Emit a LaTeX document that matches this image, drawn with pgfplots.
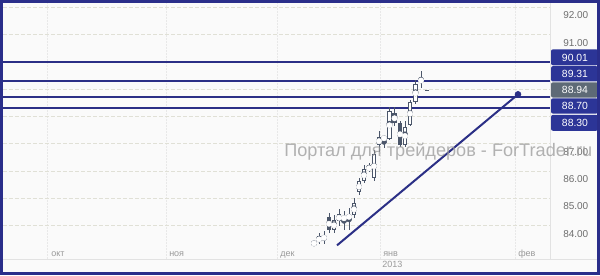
\documentclass[border=0pt]{standalone}
\usepackage{pgfplots}
\pgfplotsset{compat=1.18}
\usepackage{pgfplotstable}
\usepackage{fontspec}
\setmainfont{Liberation Sans}
\definecolor{bg}{HTML}{FAFAFA}
\definecolor{frame}{HTML}{2A2E8A}
\definecolor{navy}{HTML}{2B2F86}
\definecolor{boxnavy}{HTML}{2C3597}
\definecolor{boxgray}{HTML}{5E6A76}
\definecolor{candle}{HTML}{4B566A}
\definecolor{gridc}{HTML}{E0E0D6}
\definecolor{vgridc}{HTML}{E8E8E8}
\definecolor{ticktext}{HTML}{6E6E6E}
\definecolor{monthtext}{HTML}{9A9A9A}
\definecolor{sepc}{HTML}{E2E2E2}

% x = position along the time axis (days as drawn), o h l c = prices
\pgfplotstableread{
x o h l c
314 83.32 83.43 83.28 83.39
319 83.39 83.72 83.32 83.61
324 83.65 83.79 83.32 83.47
329 84.31 84.45 83.72 83.83
334 83.83 84.38 83.72 84.20
339 84.16 84.60 83.98 84.42
344 84.27 84.53 83.83 84.28
349 84.42 84.64 83.83 84.23
354 84.38 85.00 84.27 84.82
359 85.22 85.74 85.11 85.63
364 85.63 86.21 85.55 86.07
369 86.10 86.29 85.96 86.11
374 85.74 86.76 85.63 86.62
379 86.95 87.46 86.69 87.24
384 87.20 87.31 86.84 87.21
389.5 87.16 88.34 87.13 88.20
394.5 88.12 88.34 87.64 87.75
400 87.75 87.82 86.87 86.95
405 86.95 87.82 86.87 87.62
410 87.68 88.59 87.64 88.52
415.5 88.52 89.33 88.45 89.18
421 89.36 89.66 89.03 89.28
}\candles

\begin{document}
\begin{tikzpicture}
\begin{scope}[shift={(-2.25pt,194.25pt)}, x=0.75pt, y=-0.75pt]
  \fill[bg] (0,0) rectangle (600,275);
\end{scope}
\begin{axis}[
  at={(0,0)}, anchor=south west,
  scale only axis, width=410.25pt, height=192pt,
  xmin=3, xmax=550, ymin=82.769, ymax=92.1465,
  axis line style={draw=none},
  xtick={48,166,277,380,515},
  xticklabels={окт,ноя,дек,янв,фев},
  xticklabel style={anchor=base west, inner sep=0pt, xshift=2.25pt, yshift=2.25pt, font=\fontsize{6.75}{7}\selectfont, text=monthtext},
  ytick={84,85,86,87,88,89,90,91,92},
  yticklabels={84.00,85.00,86.00,87.00,,,,91.00,92.00},
  yticklabel pos=right,
  yticklabel style={anchor=west, inner sep=0pt, xshift=9.75pt, yshift=-6pt, font=\fontsize{7.5}{8}\selectfont, text=ticktext},
  major tick length=0pt,
  xmajorgrids, ymajorgrids,
  x grid style={vgridc, line width=0.75pt, dash pattern=on 1.5pt off 0.75pt},
  y grid style={gridc, line width=0.75pt, dash pattern=on 3pt off 1.5pt},
]
% price levels
\addplot[navy, line width=1.5pt] coordinates {(3,90.01) (550,90.01)};
\addplot[navy, line width=1.5pt] coordinates {(3,89.31) (550,89.31)};
\addplot[navy, line width=1.5pt] coordinates {(3,88.70) (550,88.70)};
\addplot[navy, line width=1.5pt] coordinates {(3,88.30) (550,88.30)};
% trend line
\addplot[navy, line width=1.5pt] coordinates {(337,83.28) (518,88.81)};
\addplot[navy, only marks, mark=*, mark size=2.25pt] coordinates {(518,88.81)};
% wicks
\addplot[candle, only marks, mark=none, error bars/.cd, y dir=both, y explicit, error mark=none,
  error bar style={candle, line width=0.75pt}]
  table[x=x, y expr={(\thisrow{h}+\thisrow{l})/2}, y error expr={(\thisrow{h}-\thisrow{l})/2}] {\candles};
% bodies
\addplot[candle, only marks, mark=none, error bars/.cd, y dir=both, y explicit, error mark=none,
  error bar style={candle, line width=3.2pt}]
  table[x=x, y expr={(\thisrow{o}+\thisrow{c})/2}, y error expr={max(abs(\thisrow{c}-\thisrow{o})/2,0.0183)}] {\candles};
% hollow interiors of rising candles
\addplot[white, only marks, mark=none, error bars/.cd, y dir=both, y explicit, error mark=none,
  error bar style={white, line width=1.7pt}]
  table[x=x, y expr={(\thisrow{o}+\thisrow{c})/2}, y error expr={(\thisrow{c}>\thisrow{o})*max((\thisrow{c}-\thisrow{o})/2-0.0366,0)}] {\candles};
% current price tick
\addplot[candle, line width=0.75pt] coordinates {(425,88.94) (429,88.94)};
\end{axis}
\begin{scope}[shift={(-2.25pt,194.25pt)}, x=0.75pt, y=-0.75pt]
  % separators
  \draw[sepc, line width=0.75pt] (3,259) -- (597,259);
  \draw[sepc, line width=0.75pt] (550,3) -- (550,259);
  % year
  \node[anchor=base west, inner sep=0pt, font=\fontsize{6.75}{7}\selectfont, text=monthtext] at (382,267.5) {2013};
  % watermark
  \node[anchor=base west, inner sep=0pt, font=\fontsize{13.6}{14}\selectfont, text=black!40, opacity=0.75] at (284,156.5) {Портал для трейдеров - ForTrader.ru};
  % price boxes
  \fill[boxnavy, rounded corners=1.5pt] (551,49) rectangle (598,65);
  \fill[boxnavy, rounded corners=1.5pt] (551,65.8) rectangle (598,81.2);
  \fill[boxgray, rounded corners=1.5pt] (551,82) rectangle (598,97.3);
  \fill[boxnavy, rounded corners=1.5pt] (551,98) rectangle (598,113.3);
  \fill[boxnavy, rounded corners=1.5pt] (551,114.6) rectangle (598,130.5);
  \begin{scope}[every node/.style={text=white, font=\fontsize{7.8}{8}\selectfont, inner sep=0pt}]
    \node at (575,57.2) {90.01};
    \node at (575,73.6) {89.31};
    \node at (575,89.8) {88.94};
    \node at (575,105.8) {88.70};
    \node at (575,122.6) {88.30};
  \end{scope}
  % frame
  \draw[frame, line width=2.25pt] (1.5,1.2) rectangle (598.5,273.5);
\end{scope}
\end{tikzpicture}
\end{document}
